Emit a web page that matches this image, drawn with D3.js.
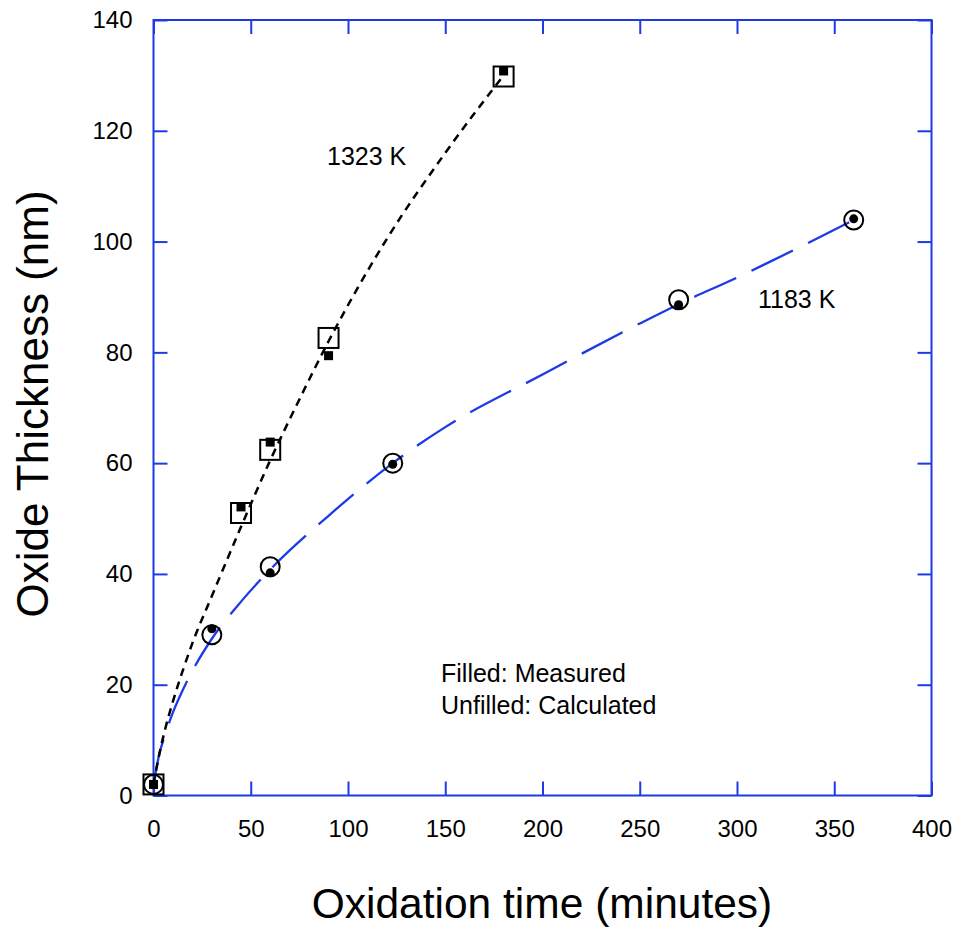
<!DOCTYPE html>
<html><head><meta charset="utf-8">
<script src="https://cdn.jsdelivr.net/npm/d3@7"></script>
<style>body{margin:0;background:#fff}svg{display:block}text{font-family:"Liberation Sans",Arial,sans-serif;fill:#000}</style>
</head><body><svg id="c" width="956" height="932"></svg>
<script>
// ---- data ----
const xTicks = [0,50,100,150,200,250,300,350,400];
const yTicks = [0,20,40,60,80,100,120,140];
// 1323 K
const t1323Calc = [0,45,60,90,180];
const d1323Calc = [2,51,62.4,82.6,129.8];
const t1323Meas = [0,45,60,90,180];
const d1323Meas = [2,52.1,63.8,79.4,130.8];
const t1323Fit = [0,3,6,10,15,20,30,45,60,75,90,120,150,180];
const d1323Fit = [2,7.5,12,17,22.5,27.5,36,48.5,60.5,71.5,82,100.5,116,130];
// 1183 K
const t1183Calc = [0,30,60,123,270,360];
const d1183Calc = [2,29,41.3,60,89.5,103.9];
const t1183Meas = [0,30,60,123,270,360];
const d1183Meas = [2,30.1,40.2,59.8,88.6,104.1];
const t1183Fit = [0,3,6,10,15,20,30,45,60,90,123,150,200,250,270,300,360];
const d1183Fit = [2,7.5,11,15,19,22.5,28.3,35,40.8,50.5,60,66.5,76,85.2,88.7,93.5,103.9];

const blue = "#1c3ae6";
const svg = d3.select("#c");
const m = {l:153.5, r:931.5, t:20, b:795.5};
const x = d3.scaleLinear().domain([0,400]).range([m.l,m.r]);
const y = d3.scaleLinear().domain([0,140]).range([m.b,m.t]);
const tl = 14;

function styleAxis(g, hideText){
  g.select(".domain").remove();
  g.selectAll(".tick line").attr("stroke",blue).attr("stroke-width",2);
  g.selectAll(".tick text").style("font-size","24px").style("font-family","Liberation Sans, Arial, sans-serif").attr("fill","#000");
  if(hideText) g.selectAll(".tick text").remove();
}
svg.append("g").attr("transform",`translate(0,${m.b})`)
  .call(d3.axisBottom(x).tickValues(xTicks).tickSize(-tl).tickPadding(24).tickFormat(d3.format("d")))
  .call(g=>styleAxis(g,false));
svg.append("g").attr("transform",`translate(0,${m.t})`)
  .call(d3.axisTop(x).tickValues(xTicks).tickSize(-tl)).call(g=>styleAxis(g,true));
svg.append("g").attr("transform",`translate(${m.l},0)`)
  .call(d3.axisLeft(y).tickValues(yTicks).tickSize(-tl).tickPadding(21).tickFormat(d3.format("d")))
  .call(g=>styleAxis(g,false));
svg.append("g").attr("transform",`translate(${m.r},0)`)
  .call(d3.axisRight(y).tickValues(yTicks).tickSize(-tl)).call(g=>styleAxis(g,true));
svg.append("rect").attr("x",m.l).attr("y",m.t).attr("width",m.r-m.l).attr("height",m.b-m.t)
  .attr("fill","none").attr("stroke",blue).attr("stroke-width",2);

const line = d3.line().x(d=>x(d[0])).y(d=>y(d[1])).curve(d3.curveMonotoneX);
svg.append("path").datum(t1183Fit.map((t,i)=>[t,d1183Fit[i]]))
  .attr("d",line).attr("fill","none").attr("stroke",blue).attr("stroke-width",2.3)
  .attr("stroke-dasharray","46,17");
svg.append("path").datum(t1323Fit.map((t,i)=>[t,d1323Fit[i]]))
  .attr("d",line).attr("fill","none").attr("stroke","#000").attr("stroke-width",2.5)
  .attr("stroke-dasharray","8,6");

svg.append("g").selectAll("circle").data(t1183Calc.map((t,i)=>[t,d1183Calc[i]])).join("circle")
  .attr("cx",d=>x(d[0])).attr("cy",d=>y(d[1])).attr("r",9.5)
  .attr("fill","none").attr("stroke","#000").attr("stroke-width",2);
svg.append("g").selectAll("circle").data(t1183Meas.map((t,i)=>[t,d1183Meas[i]])).join("circle")
  .attr("cx",d=>x(d[0])).attr("cy",d=>y(d[1])).attr("r",4.5).attr("fill","#000");
svg.append("g").selectAll("rect").data(t1323Calc.map((t,i)=>[t,d1323Calc[i]])).join("rect")
  .attr("x",d=>x(d[0])-10).attr("y",d=>y(d[1])-10).attr("width",20).attr("height",20)
  .attr("fill","none").attr("stroke","#000").attr("stroke-width",2);
svg.append("g").selectAll("rect").data(t1323Meas.map((t,i)=>[t,d1323Meas[i]])).join("rect")
  .attr("x",d=>x(d[0])-4.5).attr("y",d=>y(d[1])-4.5).attr("width",9).attr("height",9)
  .attr("fill","#000");

svg.append("text").attr("x",327).attr("y",165).style("font-size","25px").text("1323 K");
svg.append("text").attr("x",758).attr("y",308).style("font-size","25px").text("1183 K");
svg.append("text").attr("x",441).attr("y",682).style("font-size","25px").text("Filled: Measured");
svg.append("text").attr("x",441).attr("y",714).style("font-size","25px").text("Unfilled: Calculated");
svg.append("text").attr("x",542).attr("y",918).attr("text-anchor","middle").style("font-size","42.5px").text("Oxidation time (minutes)");
svg.append("text").attr("transform","translate(48,404) rotate(-90)").attr("text-anchor","middle").style("font-size","44px").text("Oxide Thickness (nm)");
</script></body></html>
